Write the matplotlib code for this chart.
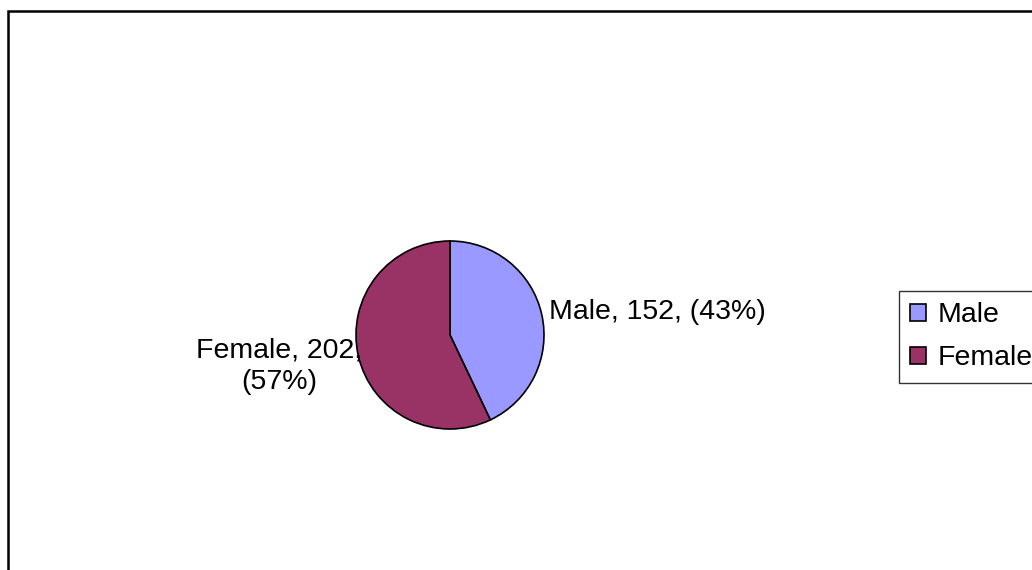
import numpy as np
import matplotlib
matplotlib.use("Agg")
import matplotlib.pyplot as plt
from matplotlib.patches import Rectangle, Patch

plt.rcParams["font.family"] = ["Liberation Sans", "DejaVu Sans"]

categories = ["Male", "Female"]
counts = [152, 202]
colors = ["#9999FF", "#993366"]

W, H = 1032, 570
FS = 20.5
fig = plt.figure(figsize=(W / 100, H / 100), dpi=100)

# outer chart frame (runs off right and bottom edges)
fig.patches.append(Rectangle((8 / W, -0.1), 1.2, 1.1 - 11 / H,
                             transform=fig.transFigure, fill=False,
                             edgecolor="black", linewidth=1.8))

# pie axes: centre (450, 335) px, radius 94 px
cx, cy, r = 450, 335, 94
ax = fig.add_axes([(cx - r) / W, (H - cy - r) / H, 2 * r / W, 2 * r / H])
wedges, _ = ax.pie(counts, colors=colors, startangle=90, counterclock=False,
                   wedgeprops=dict(edgecolor="black", linewidth=1.2))
ax.set_xlim(-1, 1)
ax.set_ylim(-1, 1)
ax.set_aspect("equal")
ax.axis("off")

total = sum(counts)
for w, name, n in zip(wedges, categories, counts):
    ang = np.deg2rad((w.theta1 + w.theta2) / 2)
    x, y = 1.06 * np.cos(ang), 1.06 * np.sin(ang)
    pct = round(100 * n / total)
    if x > 0:
        ax.text(x + 0.02, y + 0.01, f"{name}, {n}, ({pct}%)", ha="left",
                va="center", fontsize=FS, clip_on=False)
    else:
        ax.text(x + 0.1, y - 0.1, f"{name}, {n},\n({pct}%)", ha="right",
                va="center", multialignment="center", fontsize=FS,
                linespacing=1.25, clip_on=False)

handles = [Patch(facecolor=c, edgecolor="black", linewidth=1.2) for c in colors]
leg = fig.legend(handles, categories, loc="upper left",
                 bbox_to_anchor=(899 / W, 1 - 291 / H), fontsize=FS,
                 frameon=True, fancybox=False, handlelength=0.55,
                 handleheight=0.55, handletextpad=0.4, borderpad=0.4,
                 labelspacing=0.6, borderaxespad=0)
leg.get_frame().set_edgecolor("black")
leg.get_frame().set_linewidth(1.0)

fig.savefig("out.png", dpi=100)
